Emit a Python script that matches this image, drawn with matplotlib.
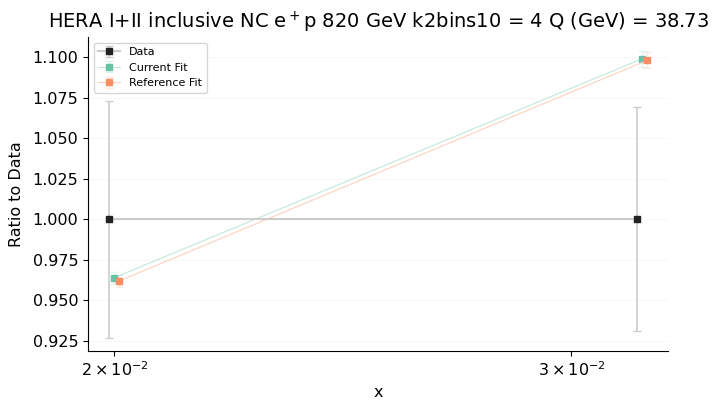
import numpy as np
import matplotlib
matplotlib.use("Agg")
import matplotlib.pyplot as plt
import matplotlib.colors as mc

x = [0.02, 0.03195]
data_y = [1.0, 1.0]
data_err = [0.073, 0.069]
cur_y = [0.964, 1.099]
cur_err = [0.0037, 0.005]
ref_y = [0.962, 1.098]
ref_err = [0.0037, 0.005]

fig, ax = plt.subplots(figsize=(7.17, 4.08), dpi=100)
fig.subplots_adjust(left=0.123, right=0.932, top=0.909, bottom=0.14)

shift = 10 ** 0.00193
xd = np.array(x) / shift
xc = np.array(x)
xr = np.array(x) * shift


def lighten(col, f):
    rgb = np.array(mc.to_rgb(col))
    return tuple(1 - (1 - rgb) * f)


ax.errorbar(xd, data_y, yerr=data_err, color='#cccccc', marker='s', mfc='#222222', mec='#222222',
            ms=5, lw=1.5, capsize=3, elinewidth=1.2, ecolor='#cccccc', label='Data', zorder=3)
for xs, ys, es, col, lab in [(xc, cur_y, cur_err, '#66c2a5', 'Current Fit'),
                             (xr, ref_y, ref_err, '#fc8d62', 'Reference Fit')]:
    ax.errorbar(xs, ys, yerr=es, color=lighten(col, 0.4), marker='s', ms=5, lw=0.8,
                mfc=col, mec=col, capsize=3, elinewidth=1, ecolor=lighten(col, 0.2),
                label=lab, zorder=2)

ax.set_xscale('log')
ax.set_xlim(0.01954, 0.03269)
ax.set_ylim(0.9188, 1.1123)
ax.set_xticks([0.02, 0.03])
ax.set_xticklabels([r'$2\times10^{-2}$', r'$3\times10^{-2}$'])
ax.xaxis.set_minor_formatter(matplotlib.ticker.NullFormatter())
ax.set_yticks(np.arange(0.925, 1.1001, 0.025))
ax.yaxis.set_major_formatter(matplotlib.ticker.FormatStrFormatter('%.3f'))
ax.tick_params(labelsize=11.5)
ax.grid(axis='y', color='#000000', alpha=0.03, lw=0.8)
ax.spines['top'].set_visible(False)
ax.spines['right'].set_visible(False)
ax.set_xlabel('x', fontsize=11.5)
ax.set_ylabel('Ratio to Data', fontsize=11.5, labelpad=6)
ax.set_title(r'HERA I+II inclusive NC e$^+$p 820 GeV k2bins10 = 4 Q (GeV) = 38.73', fontsize=14)
ax.legend(loc='upper left', fontsize=8, framealpha=0.8)

fig.savefig('out.png', dpi=100)
